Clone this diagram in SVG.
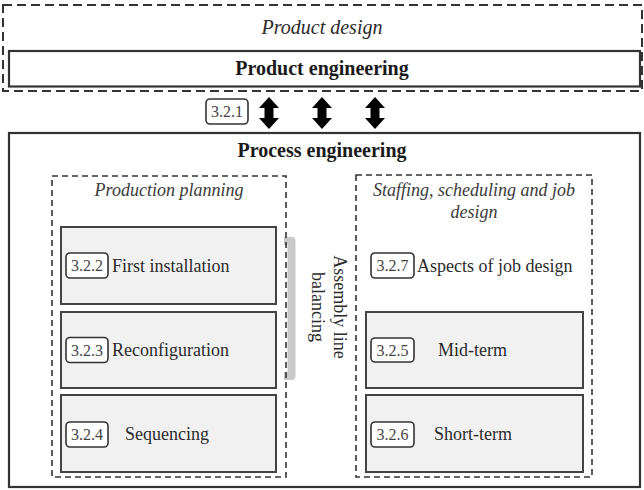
<svg xmlns="http://www.w3.org/2000/svg" width="644" height="490" viewBox="0 0 644 490">
<style>
text{fill:#2b2b2b}
.t{font-size:18px}
.it{font-size:18px;font-style:italic;fill:#3a3a3a}
.bold{font-size:20px;font-weight:bold;fill:#1a1a1a}
.lbl{font-size:16px;fill:#444;text-anchor:middle}
.lb{fill:#fff;stroke:#333;stroke-width:1.6}
.box{fill:#f1f1f1;stroke:#444;stroke-width:2}
.dash{fill:none;stroke:#333;stroke-width:1.6;stroke-dasharray:6 4}
.dash2{fill:none;stroke:#333;stroke-width:2;stroke-dasharray:9 5}
.solid{fill:#fff;stroke:#333;stroke-width:2.2}
.arr{fill:#000}
</style>
<defs>
<path id="dbl" d="M0,-16 L10,-5 L4.5,-5 L4.5,5 L10,5 L0,16 L-10,5 L-4.5,5 L-4.5,-5 L-10,-5 Z"/>
</defs>
<g font-family="Liberation Serif, DejaVu Serif, serif">
<g id="product-design">
<rect class="dash2" x="3" y="5" width="639" height="86"/>
<text x="322" y="34" text-anchor="middle" font-size="20" font-style="italic" fill="#3a3a3a">Product design</text>
</g>
<g id="product-engineering">
<rect class="solid" x="9" y="51" width="631" height="35.5"/>
<text class="bold" x="322" y="75" text-anchor="middle">Product engineering</text>
</g>
<g id="process-engineering">
<rect class="solid" x="9" y="133" width="631" height="354"/>
<text class="bold" x="322" y="157" text-anchor="middle">Process engineering</text>
</g>
<g id="connectors">
<use href="#dbl" class="arr" x="269" y="113"/>
<use href="#dbl" class="arr" x="322" y="113"/>
<use href="#dbl" class="arr" x="375" y="113"/>
</g>
<g id="label-321">
<rect class="lb" x="206" y="99" width="42" height="25" rx="4"/>
<text class="lbl" x="227" y="117">3.2.1</text>
</g>
<g id="assembly-line-balancing">
<path d="M284,241 H291.5 V376 H284" fill="none" stroke="#c9c9c9" stroke-width="8" stroke-linejoin="round"/>
<g transform="translate(334,307) rotate(90)">
<text class="t" x="0" y="0" text-anchor="middle">Assembly line</text>
<text class="t" x="0" y="22" text-anchor="middle">balancing</text>
</g>
</g>
<g id="production-planning">
<rect class="dash" x="52" y="176" width="234" height="301"/>
<text class="it" x="169" y="196" text-anchor="middle">Production planning</text>
</g>
<g id="first-installation">
<rect class="box" x="61" y="227" width="215" height="77"/>
<rect class="lb" x="66" y="253" width="42" height="25" rx="4"/>
<text class="lbl" x="87" y="271">3.2.2</text>
<text class="t" x="112" y="272">First installation</text>
</g>
<g id="reconfiguration">
<rect class="box" x="61" y="312" width="215" height="76"/>
<rect class="lb" x="66" y="337.5" width="42" height="25" rx="4"/>
<text class="lbl" x="87" y="355.5">3.2.3</text>
<text class="t" x="112" y="356">Reconfiguration</text>
</g>
<g id="sequencing">
<rect class="box" x="61" y="395" width="215" height="77"/>
<rect class="lb" x="66" y="422" width="42" height="25" rx="4"/>
<text class="lbl" x="87" y="440">3.2.4</text>
<text class="t" x="125" y="440">Sequencing</text>
</g>
<g id="staffing-scheduling">
<rect class="dash" x="356" y="175" width="236" height="302"/>
<text class="it" x="474" y="196" text-anchor="middle">Staffing, scheduling and job</text>
<text class="it" x="474" y="218" text-anchor="middle">design</text>
</g>
<g id="aspects-of-job-design">
<rect class="lb" x="371" y="253" width="43" height="25" rx="4"/>
<text class="lbl" x="392.5" y="271">3.2.7</text>
<text class="t" x="417" y="272">Aspects of job design</text>
</g>
<g id="mid-term">
<rect class="box" x="366" y="312" width="217" height="76"/>
<rect class="lb" x="371" y="338" width="43" height="24" rx="4"/>
<text class="lbl" x="392.5" y="355.5">3.2.5</text>
<text class="t" x="438" y="356">Mid-term</text>
</g>
<g id="short-term">
<rect class="box" x="366" y="395" width="217" height="77"/>
<rect class="lb" x="371" y="422" width="43" height="25" rx="4"/>
<text class="lbl" x="392.5" y="440">3.2.6</text>
<text class="t" x="434" y="440">Short-term</text>
</g>
</g>
</svg>
